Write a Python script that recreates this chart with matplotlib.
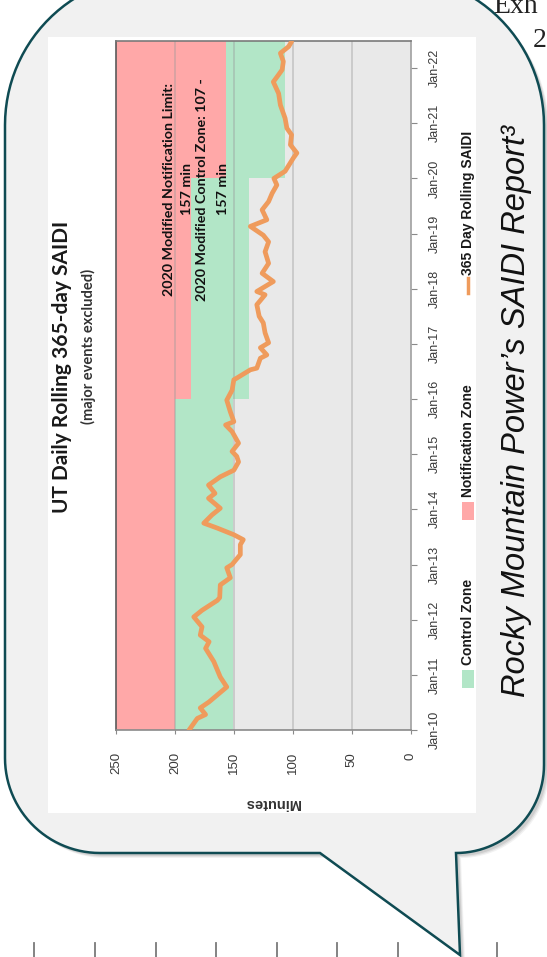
import numpy as np
import matplotlib.pyplot as plt
from matplotlib.path import Path
from matplotlib.patches import PathPatch, Rectangle

# ===== DATA =====
# 365-day rolling SAIDI (minutes), dates as decimal years
saidi_date = [
    2010.00, 2010.21, 2010.28, 2010.40, 2010.51, 2010.78, 2010.96, 2011.24,
    2011.48, 2011.60, 2011.72, 2011.87, 2012.05, 2012.17, 2012.35, 2012.40,
    2012.63, 2012.76, 2012.94, 2013.00, 2013.18, 2013.36, 2013.45, 2013.54,
    2013.66, 2013.75, 2013.90, 2014.02, 2014.20, 2014.29, 2014.44, 2014.59,
    2014.71, 2014.86, 2014.96, 2015.05, 2015.20, 2015.41, 2015.53, 2015.59,
    2015.77, 2015.98, 2016.16, 2016.35, 2016.38, 2016.53, 2016.56, 2016.74,
    2016.80, 2016.93, 2017.02, 2017.20, 2017.38, 2017.50, 2017.71, 2017.89,
    2017.95, 2018.13, 2018.28, 2018.46, 2018.67, 2018.85, 2018.97, 2019.13,
    2019.25, 2019.43, 2019.58, 2019.73, 2019.88, 2020.00, 2020.13, 2020.37,
    2020.46, 2020.61, 2020.79, 2020.91, 2021.09, 2021.33, 2021.54, 2021.75,
    2021.88, 2021.97, 2022.12, 2022.27, 2022.39, 2022.48,
]
saidi_minutes = [
    188, 181, 174, 178.5, 171, 156, 161.5, 167,
    174, 171, 178.5, 177, 184, 177, 164, 162,
    161.5, 153, 156, 151.5, 144.5, 144.5, 142, 150,
    164, 175.5, 168.5, 161.5, 171.5, 166, 171.5, 161.5,
    150, 146, 147.5, 151.5, 146, 151.5, 157, 150,
    153, 156, 151.5, 150, 147.5, 136, 130.5, 127.5,
    122, 127.5, 120.5, 123.5, 125, 128.5, 130.5, 123.5,
    130.5, 116.5, 126, 120.5, 123.5, 120.5, 125, 136,
    122, 126, 120.5, 117.5, 113.5, 116, 106.5, 99.5,
    96.5, 102, 101, 105, 106.5, 110.5, 112, 116.5,
    112, 109, 108, 110.5, 103.5, 101,
]

# control / notification zones by period
zone_start = [2010.0, 2016.0, 2020.0]
zone_end = [2016.0, 2020.0, 2022.5]
control_low = [151, 137, 107]
control_high = [200, 186, 157]
notification_top = 250

minute_ticks = [0, 50, 100, 150, 200, 250]
year_ticks = list(range(2010, 2023))
year_labels = ["Jan-10", "Jan-11", "Jan-12", "Jan-13", "Jan-14", "Jan-15", "Jan-16",
               "Jan-17", "Jan-18", "Jan-19", "Jan-20", "Jan-21", "Jan-22"]

legend_labels = ["Control Zone", "Notification Zone", "365 Day Rolling SAIDI"]

C_NOTIF = "#ffa8a8"
C_CONTROL = "#b2e6c7"
C_LINE = "#ef9b5c"
C_PLOTBG = "#e9e9e9"
C_BUBBLE = "#f1f1f1"
C_EDGE = "#0f4b53"

narrow = ["Liberation Sans", "DejaVu Sans"]
humanist = ["Lato", "DejaVu Sans"]

W, H = 547, 957
fig = plt.figure(figsize=(W / 100, H / 100), dpi=100)
fig.patch.set_facecolor("white")

# ===== BACKGROUND (pixel coords) =====
bg = fig.add_axes([0, 0, 1, 1], zorder=0)
bg.set_xlim(0, W)
bg.set_ylim(H, 0)
bg.axis("off")


def arc(cx, cy, r, a0, a1, n=30):
    t = np.radians(np.linspace(a0, a1, n))
    return list(zip(cx + r * np.cos(t), cy + r * np.sin(t)))


L, R, T, B = 5, 544, -25, 853
pts = []
pts += arc(L + 150, T + 150, 150, 180, 270)
pts += arc(R - 150, T + 150, 150, 270, 360)
pts += arc(R - 88, B - 88, 88, 0, 90)
pts += [(460, 955), (320, B)]
pts += arc(L + 95, B - 95, 95, 90, 180)
pts.append(pts[0])
bubble = Path(pts, closed=True)

# soft shadow on the lower right
for off, a in [(5, 0.10), (4, 0.15), (3, 0.2)]:
    sh = Path([(x + off, y + off) for x, y in pts], closed=True)
    bg.add_patch(PathPatch(sh, fc="#808080", ec="none", alpha=a, zorder=1))
bg.add_patch(PathPatch(bubble, fc=C_BUBBLE, ec=C_EDGE, lw=1.8, zorder=2))

# ruler marks at the bottom
for x in [34, 95, 156, 216, 277, 337, 398, 497]:
    bg.plot([x, x], [943, 957], color="#7a7a7a", lw=1.3, zorder=1)

bg.text(493, 13, "Exh", family=["Liberation Serif"], fontsize=20, color="#222222",
        va="baseline", ha="left", zorder=3)
bg.text(533, 47, "2", family=["Liberation Serif"], fontsize=20, color="#222222",
        va="baseline", ha="left", zorder=3)

# white chart card
bg.add_patch(Rectangle((48, 37), 428, 776, fc="white", ec="none", zorder=3))

# title block
bg.text(62, 367, "UT Daily Rolling 365-day SAIDI", rotation=90, ha="center", va="center",
        fontsize=15, weight="bold", family=humanist, color="#1a1a1a", zorder=4)
bg.text(88, 346, "(major events excluded)", rotation=90, ha="center", va="center",
        fontsize=10.5, weight="bold", family=humanist, color="#333333", zorder=4)
bg.text(272, 803, "Minutes", rotation=180, ha="center", va="center",
        fontsize=10.5, weight="bold", family=narrow, color="#333333", zorder=4)

# legend
lx = 468
bg.add_patch(Rectangle((lx - 6, 670), 12, 18, fc=C_CONTROL, ec="none", zorder=4))
bg.text(lx, 665, legend_labels[0], rotation=90, ha="center", va="bottom",
        fontsize=10, weight="bold", family=narrow, color="#1a1a1a", zorder=4)
bg.add_patch(Rectangle((lx - 6, 502), 12, 18, fc=C_NOTIF, ec="none", zorder=4))
bg.text(lx, 497, legend_labels[1], rotation=90, ha="center", va="bottom",
        fontsize=10, weight="bold", family=narrow, color="#1a1a1a", zorder=4)
bg.plot([lx, lx], [278, 293], color=C_LINE, lw=2.5, zorder=4)
bg.text(lx, 275, legend_labels[2], rotation=90, ha="center", va="bottom",
        fontsize=10, weight="bold", family=narrow, color="#1a1a1a", zorder=4)

bg.text(517, 697, "Rocky Mountain Power\u2019s SAIDI Report\u00b3", rotation=90,
        ha="center", va="bottom", fontsize=23.5, style="italic",
        family=narrow, color="#111111", zorder=4)

# ===== CHART =====
x0, x1, y0, y1 = 116, 410.6, 730, 40.5
ax = fig.add_axes([x0 / W, 1 - y0 / H, (x1 - x0) / W, (y0 - y1) / H], zorder=1)
ax.set_facecolor(C_PLOTBG)

for s, e, lo, hi in zip(zone_start, zone_end, control_low, control_high):
    ax.fill_betweenx([s, e], lo, hi, color=C_CONTROL, lw=0, zorder=1)
    ax.fill_betweenx([s, e], hi, notification_top, color=C_NOTIF, lw=0, zorder=1)

for m in minute_ticks[1:-1]:
    ax.axvline(m, color="#9a9a9a", alpha=0.45, lw=1.2, zorder=2)

ax.plot(saidi_minutes, saidi_date, color=C_LINE, lw=3.4, solid_joinstyle="round",
        solid_capstyle="round", zorder=3)

ax.text(197, 2019.8, "2020 Modified Notification Limit:\n157 min", rotation=90,
        ha="center", va="center", multialignment="center", linespacing=1.6,
        fontsize=10.3, weight="bold", family=humanist, color="#111111", zorder=4)
ax.text(168, 2019.8, "2020 Modified Control Zone: 107 -\n157 min", rotation=90,
        ha="center", va="center", multialignment="center", linespacing=1.85,
        fontsize=10.3, weight="bold", family=humanist, color="#111111", zorder=4)

ax.set_xlim(250, 0)
ax.set_ylim(2010, 2022.5)

ax.set_xticks(minute_ticks)
ax.set_xticklabels([str(m) for m in minute_ticks], rotation=90, fontsize=9.5,
                   family=narrow, color="#3a3a3a")
ax.tick_params(axis="x", direction="out", length=3, pad=13, color="#8a8a8a")

ax.yaxis.tick_right()
ax.set_yticks(year_ticks)
ax.set_yticklabels(year_labels, rotation=90, va="center", fontsize=9,
                   family=narrow, color="#3a3a3a")
ax.tick_params(axis="y", direction="out", length=4, pad=9, color="#8a8a8a")

ax.spines["left"].set_color("#5a5a5a")
ax.spines["bottom"].set_color("#8a8a8a")
ax.spines["right"].set_color("#a0a0a0")
ax.spines["top"].set_color("#7a7a7a")
for sp in ax.spines.values():
    sp.set_linewidth(1.2)

fig.savefig("out.png", dpi=100)
